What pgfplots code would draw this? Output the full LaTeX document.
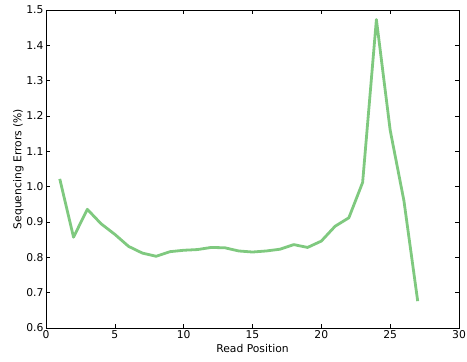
\documentclass[border=0pt]{standalone}
\usepackage{pgfplots}
\pgfplotsset{compat=1.18}
\usepackage{fontspec}
\setmainfont{DejaVu Sans}
\definecolor{errgreen}{RGB}{127,201,127}
\begin{document}
\begin{tikzpicture}
\path[use as bounding box] (0,0) rectangle (467bp,362bp);
\begin{axis}[
  at={(46bp,34bp)}, anchor=south west,
  scale only axis, width=413bp, height=318bp,
  xmin=0, xmax=30, ymin=0.6, ymax=1.5,
  xtick={0,5,...,30},
  ytick={0.6,0.7,...,1.5},
  yticklabel style={xshift=1bp, /pgf/number format/.cd, fixed, fixed zerofill, precision=1},
  /pgf/number format/assume math mode=true,
  tick align=inside, tick pos=both,
  major tick length=4bp,
  every tick/.style={black, line width=0.6pt},
  axis line style={black, line width=0.8pt},
  tick label style={font=\fontsize{10.8}{12}\selectfont},
  label style={font=\fontsize{10.8}{12}\selectfont},
  xticklabel style={yshift=1bp},
  xlabel={Read Position},
  ylabel={Sequencing Errors (\%)},
  xlabel style={yshift=1bp},
  ylabel style={yshift=-4bp},
]
\addplot[errgreen, line width=2.8bp, line join=round] coordinates {
(1,1.022) (2,0.857) (3,0.936) (4,0.895) (5,0.865) (6,0.831) (7,0.812)
(8,0.803) (9,0.816) (10,0.820) (11,0.822) (12,0.828) (13,0.827)
(14,0.818) (15,0.815) (16,0.818) (17,0.823) (18,0.836) (19,0.828)
(20,0.846) (21,0.888) (22,0.912) (23,1.012) (24,1.473) (25,1.160)
(26,0.960) (27,0.676)
};
\end{axis}
\end{tikzpicture}
\end{document}
